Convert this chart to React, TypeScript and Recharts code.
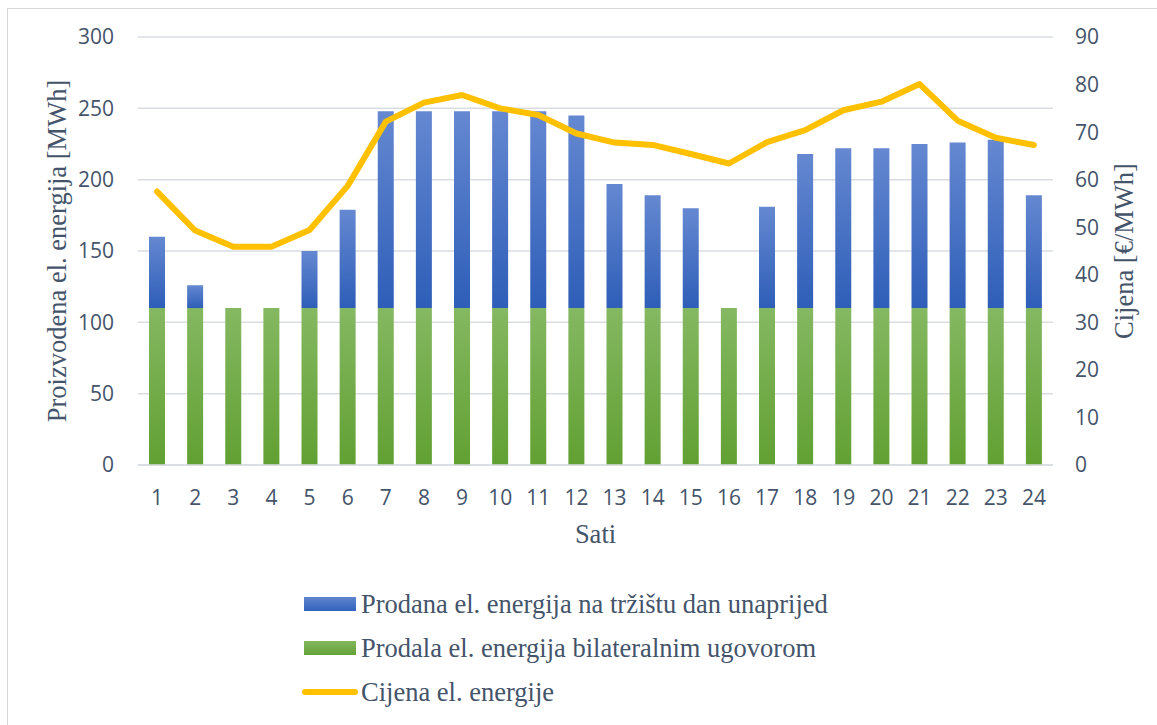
import React from "react";
import {
  ComposedChart,
  Bar,
  Line,
  XAxis,
  YAxis,
  CartesianGrid,
  Legend,
} from "recharts";

const hours = [
  "1", "2", "3", "4", "5", "6", "7", "8", "9", "10", "11", "12",
  "13", "14", "15", "16", "17", "18", "19", "20", "21", "22", "23", "24",
];

// MWh sold through bilateral contract
const bilateral = [
  110, 110, 110, 110, 110, 110, 110, 110, 110, 110, 110, 110,
  110, 110, 110, 110, 110, 110, 110, 110, 110, 110, 110, 110,
];

// MWh sold on the day-ahead market (stacked on top)
const dayAhead = [
  50, 16, 0, 0, 40, 69, 138, 138, 138, 138, 138, 135,
  87, 79, 70, 0, 71, 108, 112, 112, 115, 116, 118, 79,
];

// €/MWh
const price = [
  57.5, 49.3, 45.9, 45.9, 49.4, 58.7, 72.2, 76.2, 77.8, 75.0, 73.6, 69.7,
  67.8, 67.3, 65.4, 63.4, 67.9, 70.4, 74.6, 76.4, 80.1, 72.4, 68.8, 67.3,
];

const leftTicks = [0, 50, 100, 150, 200, 250, 300];
const rightTicks = [0, 10, 20, 30, 40, 50, 60, 70, 80, 90];

const legendItems = [
  { label: "Prodana el. energija na tržištu dan unaprijed", type: "rect", color: "url(#blueGrad)", css: "linear-gradient(#5f85cf, #3262bd)" },
  { label: "Prodala el. energija bilateralnim ugovorom", type: "rect", color: "url(#greenGrad)", css: "linear-gradient(#82b65f, #64a336)" },
  { label: "Cijena el. energije", type: "line", color: "#FFC000", css: "#FFC000" },
];

const data = hours.map((h, i) => ({
  hour: h,
  bilateral: bilateral[i],
  dayAhead: dayAhead[i],
  price: price[i],
}));

const textColor = "#44546A";
const gridColor = "#D9DDE2";
const tickStyle = { fontFamily: "'Open Sans', sans-serif", fontSize: 21, fill: textColor };
const titleFont = "'Liberation Serif', 'Times New Roman', serif";

const renderLegend = () => (
  <div style={{ fontFamily: titleFont, fontSize: 26.5, color: textColor }}>
    {legendItems.map((item) => (
      <div key={item.label} style={{ display: "flex", alignItems: "center", height: 44 }}>
        {item.type === "rect" ? (
          <div style={{ width: 52, height: 14, background: item.css, marginRight: 5 }} />
        ) : (
          <div
            style={{
              width: 56,
              height: 6,
              borderRadius: 3,
              background: item.css,
              marginLeft: -2,
              marginRight: 3,
            }}
          />
        )}
        <span style={{ whiteSpace: "nowrap", lineHeight: "30px" }}>{item.label}</span>
      </div>
    ))}
  </div>
);

export default function App() {
  return (
    <div style={{ position: "absolute", left: 0, top: 0, width: 1157, height: 725, background: "#fff", overflow: "hidden" }}>
      <div
        style={{
          position: "absolute",
          left: 7,
          top: 8,
          width: 1150,
          height: 717,
          borderTop: "1.5px solid #D9D9D9",
          borderLeft: "1.5px solid #D9D9D9",
        }}
      />
      <div style={{ position: "absolute", left: 0, top: 0 }}>
        <ComposedChart
          width={1157}
          height={725}
          data={data}
          margin={{ top: 37, right: 0, bottom: 180, left: 0 }}
        >
          <defs>
            <linearGradient id="blueGrad" x1="0" y1="0" x2="0" y2="1">
              <stop offset="0%" stopColor="#6588D1" />
              <stop offset="100%" stopColor="#2E5EB8" />
            </linearGradient>
            <linearGradient id="greenGrad" x1="0" y1="0" x2="0" y2="1">
              <stop offset="0%" stopColor="#85B862" />
              <stop offset="100%" stopColor="#61A032" />
            </linearGradient>
          </defs>
          <CartesianGrid yAxisId="left" vertical={false} stroke={gridColor} strokeWidth={1.5} />
          <XAxis
            dataKey="hour"
            height={80}
            tick={tickStyle}
            tickLine={false}
            tickSize={6}
            tickMargin={19}
            axisLine={{ stroke: gridColor, strokeWidth: 1.5 }}
            interval={0}
            label={{
              value: "Sati",
              position: "insideBottom",
              offset: 2,
              style: { fontFamily: titleFont, fontSize: 26.5, fill: textColor },
            }}
          />
          <YAxis
            yAxisId="left"
            width={138}
            domain={[0, 300]}
            ticks={leftTicks}
            tick={tickStyle}
            tickLine={false}
            axisLine={false}
            tickSize={6}
            tickMargin={18}
            label={{
              value: "Proizvodena el. energija [MWh]",
              angle: -90,
              position: "insideLeft",
              offset: 57,
              style: { textAnchor: "middle", fontFamily: titleFont, fontSize: 26.5, fill: textColor },
            }}
          />
          <YAxis
            yAxisId="right"
            orientation="right"
            width={104}
            domain={[0, 90]}
            ticks={rightTicks}
            tick={{ ...tickStyle, textAnchor: "start" }}
            tickLine={false}
            axisLine={false}
            tickSize={6}
            tickMargin={16}
            label={{
              value: "Cijena [€/MWh]",
              angle: -90,
              position: "insideRight",
              offset: 33,
              style: { textAnchor: "middle", fontFamily: titleFont, fontSize: 26.5, fill: textColor },
            }}
          />
          <Bar
            yAxisId="left"
            dataKey="bilateral"
            stackId="a"
            barSize={16}
            fill="url(#greenGrad)"
            isAnimationActive={false}
          />
          <Bar
            yAxisId="left"
            dataKey="dayAhead"
            stackId="a"
            barSize={16}
            fill="url(#blueGrad)"
            isAnimationActive={false}
          />
          <Line
            yAxisId="right"
            dataKey="price"
            type="linear"
            stroke="#FFC000"
            strokeWidth={6}
            strokeLinejoin="round"
            strokeLinecap="round"
            dot={false}
            activeDot={false}
            isAnimationActive={false}
          />
          <Legend
            layout="vertical"
            verticalAlign="middle"
            align="center"
            wrapperStyle={{ left: 304, top: 582, width: 600, height: 132 }}
            content={renderLegend}
          />
        </ComposedChart>
      </div>
    </div>
  );
}
